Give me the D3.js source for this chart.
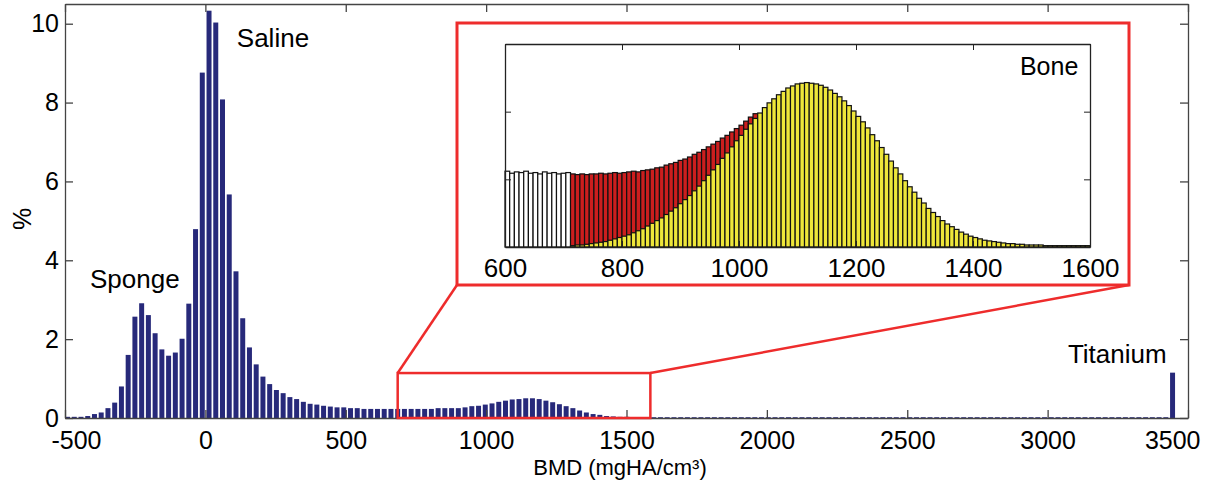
<!DOCTYPE html>
<html>
  <head>
    <meta charset="utf-8">
    <title>BMD histogram</title>
    <style media="screen">
      body {margin:0; background:#fff}
      text {font-family: Arial, "Liberation Sans", sans-serif; fill:#000}
    </style>
  </head>
  <body>
    <script src="https://cdn.jsdelivr.net/npm/d3@7"></script>
    <script type="text/javascript">

    // main histogram: bins of 24 mgHA/cm3, first bin centred at -491
    const mainFirstBin = -491
    const mainBinWidth = 24
    const mainPct = [
      0.03, 0.03, 0.03, 0.05, 0.10, 0.14, 0.25, 0.39, 0.80, 1.60,
      2.57, 2.91, 2.61, 2.15, 1.74, 1.58, 1.66, 2.01, 2.90, 4.79,
      8.76, 10.33, 10.03, 8.08, 5.67, 3.72, 2.53, 1.79, 1.36, 1.05,
      0.86, 0.71, 0.63, 0.53, 0.48, 0.41, 0.36, 0.34, 0.31, 0.29,
      0.27, 0.27, 0.25, 0.25, 0.23, 0.23, 0.23, 0.23, 0.23, 0.23,
      0.23, 0.23, 0.23, 0.23, 0.23, 0.25, 0.25, 0.25, 0.25, 0.27,
      0.30, 0.31, 0.34, 0.37, 0.41, 0.44, 0.47, 0.48, 0.50, 0.50,
      0.48, 0.44, 0.40, 0.35, 0.30, 0.25, 0.19, 0.14, 0.10, 0.08,
      0.05, 0.04, 0.03, 0.03, 0.02, 0.02, 0.02, 0.02, 0.02, 0.02,
      0.02, 0.02, 0.02, 0.02, 0.02, 0.02, 0.02, 0.02, 0.02, 0.02,
      0.02, 0.02, 0.02, 0.02, 0.02, 0.02, 0.02, 0.02, 0.02, 0.02,
      0.02, 0.02, 0.02, 0.02, 0.02, 0.02, 0.02, 0.02, 0.02, 0.02,
      0.02, 0.02, 0.02, 0.02, 0.02, 0.02, 0.02, 0.02, 0.02, 0.02,
      0.02, 0.02, 0.02, 0.02, 0.02, 0.02, 0.02, 0.02, 0.02, 0.02,
      0.02, 0.02, 0.02, 0.02, 0.02, 0.02, 0.02, 0.02, 0.02, 0.02,
      0.02, 0.02, 0.02, 0.02, 0.02, 0.02, 0.02, 0.02, 0.02, 0.02,
      0.02, 0.02, 0.02, 0.02, 1.15
    ]
    const mainXTicks = [-500, 0, 500, 1000, 1500, 2000, 2500, 3000, 3500]
    const mainYTicks = [0, 2, 4, 6, 8, 10]

    // zoom window drawn on the main chart
    const zoomRange = [685, 1585]
    const zoomTop = 1.14

    // inset: bins of 8
    const insetBinWidth = 8
    const grayFirstBin = 604
    const grayVals = [1.12, 1.09, 1.11, 1.10, 1.12, 1.09, 1.10, 1.08, 1.11, 1.09, 1.10, 1.08, 1.09, 1.10]
    const redFirstBin = 716
    const redVals = [
      1.08, 1.07, 1.08, 1.07, 1.08, 1.08, 1.09, 1.08, 1.09, 1.10,
      1.09, 1.10, 1.11, 1.12, 1.11, 1.13, 1.14, 1.15, 1.17, 1.18,
      1.21, 1.23, 1.25, 1.28, 1.30, 1.33, 1.37, 1.40, 1.44, 1.48,
      1.52, 1.56, 1.61, 1.65, 1.70, 1.75, 1.80, 1.86, 1.92, 1.97
    ]
    const boneFirstBin = 716
    const boneVals = [
      0.02, 0.03, 0.03, 0.04, 0.05, 0.06, 0.07, 0.08, 0.10, 0.12,
      0.14, 0.16, 0.18, 0.21, 0.24, 0.27, 0.31, 0.35, 0.39, 0.43,
      0.48, 0.53, 0.58, 0.64, 0.70, 0.76, 0.83, 0.90, 0.98, 1.06,
      1.14, 1.22, 1.31, 1.39, 1.48, 1.57, 1.65, 1.74, 1.82, 1.90,
      1.98, 2.06, 2.13, 2.19, 2.25, 2.30, 2.35, 2.38, 2.41, 2.42,
      2.43, 2.42, 2.41, 2.39, 2.36, 2.32, 2.27, 2.22, 2.16, 2.09,
      2.01, 1.93, 1.85, 1.76, 1.66, 1.57, 1.47, 1.37, 1.27, 1.17,
      1.08, 0.98, 0.89, 0.81, 0.72, 0.65, 0.57, 0.51, 0.45, 0.39,
      0.34, 0.30, 0.26, 0.22, 0.19, 0.16, 0.14, 0.12, 0.10, 0.09,
      0.08, 0.07, 0.06, 0.05, 0.05, 0.04, 0.04, 0.03, 0.03, 0.03,
      0.03, 0.02, 0.02, 0.02, 0.02, 0.02, 0.02, 0.02, 0.02, 0.02, 0.02
    ]
    const insetXTicks = [600, 800, 1000, 1200, 1400, 1600]
    const insetYTicks = [1, 2]

    const labels = [
      {text: 'Sponge', x: -411, y: 3.3, anchor: 'start'},
      {text: 'Saline', x: 112, y: 9.4, anchor: 'start'},
      {text: 'Titanium', x: 3424, y: 1.4, anchor: 'end'}
    ]

    const W = 1207, H = 486
    const svg = d3.select('body').append('svg')
      .attr('width', W)
      .attr('height', H)

    const x = d3.scaleLinear().domain([-500, 3500]).range([65, 1188])
    const y = d3.scaleLinear().domain([0, 10.5]).range([418, 4])
    const fmt = d => String(d)

    // main bars
    svg.append('g').selectAll('rect')
      .data(mainPct.map((v, i) => ({c: mainFirstBin + i * mainBinWidth, v})))
      .join('rect')
        .attr('x', d => x(d.c - mainBinWidth * 0.37))
        .attr('width', d => x(d.c + mainBinWidth * 0.37) - x(d.c - mainBinWidth * 0.37))
        .attr('y', d => y(d.v))
        .attr('height', d => y(0) - y(d.v))
        .attr('fill', '#27297a')

    // box, ticks on all sides
    const boxStroke = '#444'
    const axB = svg.append('g').attr('transform', `translate(0,${y(0)})`)
      .call(d3.axisBottom(x).tickValues(mainXTicks).tickFormat(fmt).tickSizeInner(-8).tickSizeOuter(0).tickPadding(13))
    const axT = svg.append('g').attr('transform', `translate(0,${y.range()[1]})`)
      .call(d3.axisTop(x).tickValues(mainXTicks).tickSizeInner(-8).tickSizeOuter(0).tickFormat(''))
    const axL = svg.append('g').attr('transform', `translate(${x.range()[0]},0)`)
      .call(d3.axisLeft(y).tickValues(mainYTicks).tickFormat(fmt).tickSizeInner(-8).tickSizeOuter(0).tickPadding(6))
    const axR = svg.append('g').attr('transform', `translate(${x.range()[1]},0)`)
      .call(d3.axisRight(y).tickValues(mainYTicks).tickSizeInner(-8).tickSizeOuter(0).tickFormat(''))
    ;[axB, axT, axL, axR].forEach(a => {
      a.select('.domain').attr('stroke', boxStroke).attr('stroke-width', 1.3)
      a.selectAll('.tick line').attr('stroke', boxStroke).attr('stroke-width', 1.3)
      a.selectAll('text').attr('font-size', 25).attr('fill', '#000')
        .attr('font-family', 'Arial, "Liberation Sans", sans-serif')
    })
    // end labels are pulled inward, as in the original figure
    axB.selectAll('.tick text')
      .filter(d => d === mainXTicks[0]).attr('dx', 11)
    axB.selectAll('.tick text')
      .filter(d => d === mainXTicks[mainXTicks.length - 1])
      .attr('text-anchor', 'end').attr('dx', 12)

    svg.append('text')
      .attr('x', 620).attr('y', 475)
      .attr('text-anchor', 'middle')
      .attr('font-size', 22)
      .text('BMD (mgHA/cm³)')

    svg.append('text')
      .attr('transform', 'translate(31,219) rotate(-90)')
      .attr('text-anchor', 'middle')
      .attr('font-size', 25)
      .text('%')

    svg.append('g').selectAll('text')
      .data(labels)
      .join('text')
        .attr('x', d => x(d.x))
        .attr('y', d => y(d.y))
        .attr('text-anchor', d => d.anchor)
        .attr('font-size', 26)
        .text(d => d.text)

    // zoom window + connectors
    const red = '#ee2c2c'
    const inset = {left: 457, right: 1129, top: 23, bottom: 285}
    const zg = svg.append('g').attr('fill', 'none').attr('stroke', red).attr('stroke-width', 2.5)
    zg.append('rect')
      .attr('x', x(zoomRange[0])).attr('y', y(zoomTop))
      .attr('width', x(zoomRange[1]) - x(zoomRange[0]))
      .attr('height', y(0) - y(zoomTop))
    zg.append('line')
      .attr('x1', x(zoomRange[0])).attr('y1', y(zoomTop))
      .attr('x2', inset.left).attr('y2', inset.bottom)
    zg.append('line')
      .attr('x1', x(zoomRange[1])).attr('y1', y(zoomTop))
      .attr('x2', inset.right).attr('y2', inset.bottom)

    svg.append('rect')
      .attr('x', inset.left).attr('y', inset.top)
      .attr('width', inset.right - inset.left)
      .attr('height', inset.bottom - inset.top)
      .attr('fill', '#fff').attr('stroke', red).attr('stroke-width', 3)

    // inset chart
    const xi = d3.scaleLinear().domain([600, 1600]).range([505, 1090])
    const yi = d3.scaleLinear().domain([0, 3]).range([247, 44])

    function insetBars (first, vals, fill) {
      svg.append('g').selectAll('rect')
        .data(vals.map((v, i) => ({c: first + i * insetBinWidth, v})))
        .join('rect')
          .attr('x', d => xi(d.c - insetBinWidth / 2))
          .attr('width', d => xi(d.c + insetBinWidth / 2) - xi(d.c - insetBinWidth / 2))
          .attr('y', d => yi(d.v))
          .attr('height', d => yi(0) - yi(d.v))
          .attr('fill', fill)
          .attr('stroke', '#111')
          .attr('stroke-width', 1.2)
    }
    insetBars(grayFirstBin, grayVals, '#fff')
    insetBars(redFirstBin, redVals, '#cc1e1e')
    insetBars(boneFirstBin, boneVals, '#eee63a')

    const ibox = '#222'
    const iB = svg.append('g').attr('transform', `translate(0,${yi(0)})`)
      .call(d3.axisBottom(xi).tickValues(insetXTicks).tickFormat(fmt).tickSizeInner(-6).tickSizeOuter(0).tickPadding(12))
    const iT = svg.append('g').attr('transform', `translate(0,${yi.range()[1]})`)
      .call(d3.axisTop(xi).tickValues(insetXTicks).tickSizeInner(-6).tickSizeOuter(0).tickFormat(''))
    const iL = svg.append('g').attr('transform', `translate(${xi.range()[0]},0)`)
      .call(d3.axisLeft(yi).tickValues(insetYTicks).tickSizeInner(-6).tickSizeOuter(0).tickFormat(''))
    const iR = svg.append('g').attr('transform', `translate(${xi.range()[1]},0)`)
      .call(d3.axisRight(yi).tickValues(insetYTicks).tickSizeInner(-6).tickSizeOuter(0).tickFormat(''))
    ;[iB, iT, iL, iR].forEach(a => {
      a.select('.domain').attr('stroke', ibox).attr('stroke-width', 1.3)
      a.selectAll('.tick line').attr('stroke', ibox).attr('stroke-width', 1)
      a.selectAll('text').attr('font-size', 26).attr('fill', '#000')
        .attr('font-family', 'Arial, "Liberation Sans", sans-serif')
    })

    svg.append('text')
      .attr('x', xi(1580)).attr('y', yi(2.54))
      .attr('text-anchor', 'end')
      .attr('font-size', 25)
      .text('Bone')

    </script>
  </body>
</html>
